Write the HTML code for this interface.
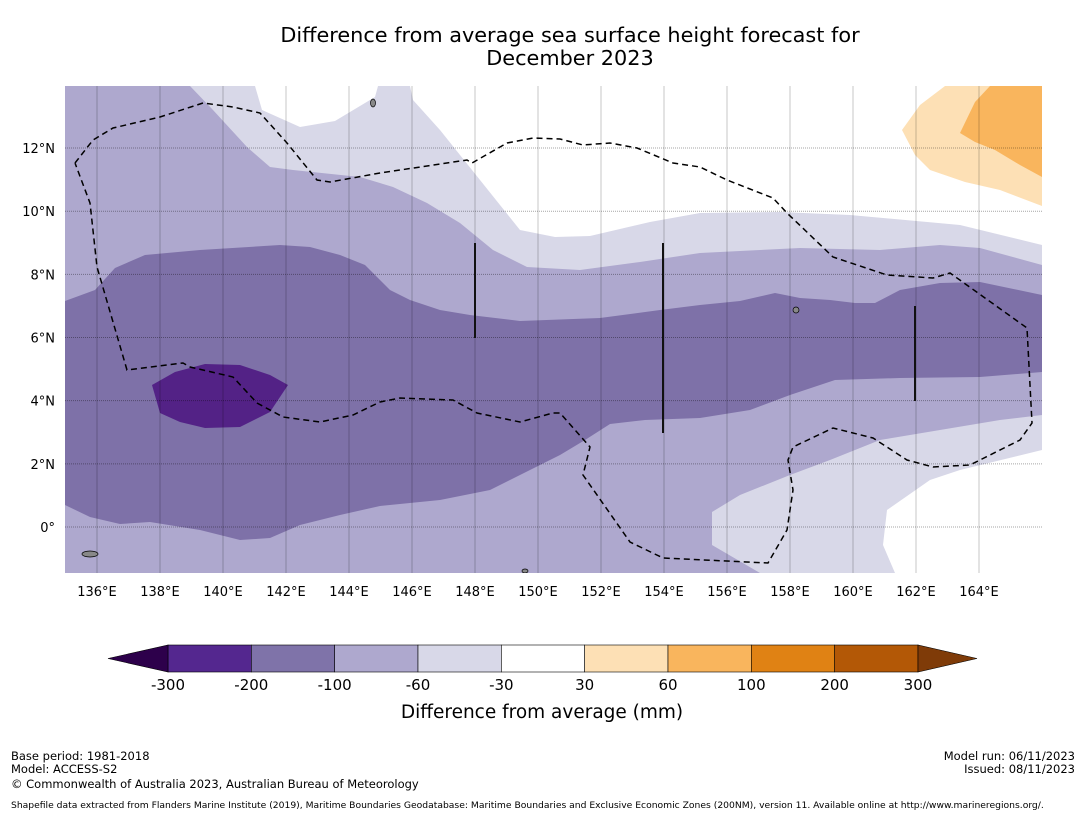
<!DOCTYPE html>
<html><head><meta charset="utf-8"><style>
html,body{margin:0;padding:0;background:#fff}
body{width:1085px;height:816px;overflow:hidden;font-family:"Liberation Sans","DejaVu Sans",sans-serif}
svg text{font-family:"DejaVu Sans","Liberation Sans",sans-serif}
</style></head><body>
<svg id="chart" width="1085" height="816" viewBox="0 0 1085 816" xmlns="http://www.w3.org/2000/svg">
<text x="570" y="42" font-size="20.8" text-anchor="middle">Difference from average sea surface height forecast for</text>
<text x="570" y="65" font-size="20.8" text-anchor="middle">December 2023</text>
<defs><clipPath id="mapclip"><rect x="65" y="86" width="977" height="487"/></clipPath></defs>
<g id="map" clip-path="url(#mapclip)"></g>
<g id="axes"></g>
<g id="cbar"></g>
<text x="542" y="718" font-size="18.5" text-anchor="middle">Difference from average (mm)</text>
<g font-size="11.5">
<text x="11" y="760">Base period: 1981-2018</text>
<text x="11" y="773">Model: ACCESS-S2</text>
<text x="11" y="788">© Commonwealth of Australia 2023, Australian Bureau of Meteorology</text>
<text x="1075" y="760" text-anchor="end">Model run: 06/11/2023</text>
<text x="1075" y="773" text-anchor="end">Issued: 08/11/2023</text>
<text x="11" y="808" font-size="9.2">Shapefile data extracted from Flanders Marine Institute (2019), Maritime Boundaries Geodatabase: Maritime Boundaries and Exclusive Economic Zones (200NM), version 11. Available online at http://www.marineregions.org/.</text>
</g>
</svg>
<script>
const lonTicks=[136,138,140,142,144,146,148,150,152,154,156,158,160,162,164];
const latTicks=[12,10,8,6,4,2,0];
const latLabels=["12°N","10°N","8°N","6°N","4°N","2°N","0°"];
const levelLabels=["-300","-200","-100","-60","-30","30","60","100","200","300"];
const levelColors=["#54278f","#7f73a9","#aea8ce","#d8d8e8","#ffffff","#fde0b5","#f9b55d","#e08214","#b35806"];
const extendColors=["#2d004b","#7f3b08"];
const NS="http://www.w3.org/2000/svg";
const X=lon=>65.5+(lon-135)*31.5;
const Y=lat=>527-lat*31.58;
function mk(tag,attrs,parent){const e=document.createElementNS(NS,tag);for(const k in attrs)e.setAttribute(k,attrs[k]);parent.appendChild(e);return e;}
const map=document.getElementById('map'),axes=document.getElementById('axes'),cbar=document.getElementById('cbar');
const regions=[
 ["#d8d8e8","65,86 1042,86 1042,573 65,573"],
 ["#ffffff","255,86 262,110 300,127 335,121 375,97 378,86"],
 ["#ffffff","410,86 413,100 440,130 480,180 520,230 555,237 590,236 650,222 700,213 780,212 850,215 960,225 1042,245 1042,86"],
 ["#ffffff","1042,450 960,470 930,480 887,510 883,545 895,573 1042,573"],
 ["#aea8ce","65,86 190,86 213,110 247,147 270,167 293,170 360,177 393,187 427,203 460,223 493,250 527,267 580,270 640,262 700,253 760,250 800,248 880,250 940,245 980,248 1042,265 1042,415 1000,420 940,430 880,440 830,460 790,475 740,495 712,512 712,545 760,573 65,573"],
 ["#7e71a8","65,301 95,290 115,268 145,255 200,250 280,245 310,247 340,255 365,265 390,290 410,300 440,310 470,315 520,321 600,318 660,310 700,305 740,301 775,293 800,298 830,300 855,303 875,303 900,290 940,283 980,282 1042,295 1042,372 980,377 900,378 835,380 790,395 750,410 700,418 645,420 610,424 585,440 560,455 530,470 490,490 440,500 380,506 340,515 300,525 270,538 240,540 200,530 150,522 120,524 90,517 65,505"],
 ["#532286","152,385 175,372 205,364 240,365 270,375 288,385 270,412 240,427 205,428 180,422 160,413"],
 ["#fde0b5","902,130 920,105 945,86 1042,86 1042,206 1000,190 965,182 930,170 915,155"],
 ["#f9b55d","960,133 975,102 990,86 1042,86 1042,177 1020,165 995,150 975,142"]
];
regions.forEach(r=>{const p=mk('polygon',{points:r[1],fill:r[0]},map);

});
lonTicks.forEach((l,i)=>{const ln=mk('line',{x1:X(l),x2:X(l),y1:86,y2:573,stroke:'#000','stroke-opacity':0.22,'stroke-width':1},map);


const t=mk('text',{x:X(l),y:596,'font-size':13,'text-anchor':'middle'},axes);t.textContent=l+"°E";

});
latTicks.forEach((l,i)=>{const ln=mk('line',{x1:65,x2:1042,y1:Y(l),y2:Y(l),stroke:'#000','stroke-opacity':0.35,'stroke-width':1,'stroke-dasharray':'1,1'},map);


const t=mk('text',{x:55,y:Y(l)+5,'font-size':13,'text-anchor':'end'},axes);t.textContent=latLabels[i];

});
const eez=mk('polyline',{points:"75,163 93,140 113,128 160,117 203,103 233,107 260,113 287,143 317,180 330,182 380,173 467,160 472,163 507,143 533,138 560,139 583,145 610,143 637,148 673,163 700,167 727,180 773,198 787,213 833,257 887,275 933,278 950,273 1027,328 1032,423 1020,440 970,465 933,467 907,460 873,438 833,428 793,447 788,460 793,490 787,530 768,563 663,558 630,542 583,475 590,447 560,413 553,413 520,422 477,413 453,400 400,398 380,402 353,415 320,422 283,417 257,403 233,377 190,367 183,363 127,370 97,267 90,203 75,163",fill:'none',stroke:'#000','stroke-width':1.5,'stroke-dasharray':'6,4'},map);


[[475,243,338],[663,243,433],[915,306,401]].forEach(v=>{const l=mk('line',{x1:v[0],x2:v[0],y1:v[1],y2:v[2],stroke:'#111','stroke-width':2},map);

});
[[373,103,2.5,4],[90,554,8,3],[525,571,3,2],[796,310,3,3]].forEach(s=>{const e=mk('ellipse',{cx:s[0],cy:s[1],rx:s[2],ry:s[3],fill:'#888',stroke:'#000','stroke-width':0.7},map);

});
const cx0=168,cw=750/levelColors.length,cy=645,ch=27;
levelColors.forEach((c,i)=>{const r=mk('rect',{x:cx0+i*cw,y:cy,width:cw,height:ch,fill:c,stroke:'#000','stroke-width':0.6},cbar);

});
const lt=mk('polygon',{points:`${cx0},${cy} ${cx0},${cy+ch} 108,${cy+ch/2}`,fill:extendColors[0],stroke:'#000','stroke-width':0.6},cbar);


const rt=mk('polygon',{points:`${cx0+750},${cy} ${cx0+750},${cy+ch} 977,${cy+ch/2}`,fill:extendColors[1],stroke:'#000','stroke-width':0.6},cbar);


levelLabels.forEach((s,i)=>{const t=mk('text',{x:cx0+i*cw,y:690,'font-size':15,'text-anchor':'middle'},cbar);t.textContent=s;

});
</script>
</body></html>
